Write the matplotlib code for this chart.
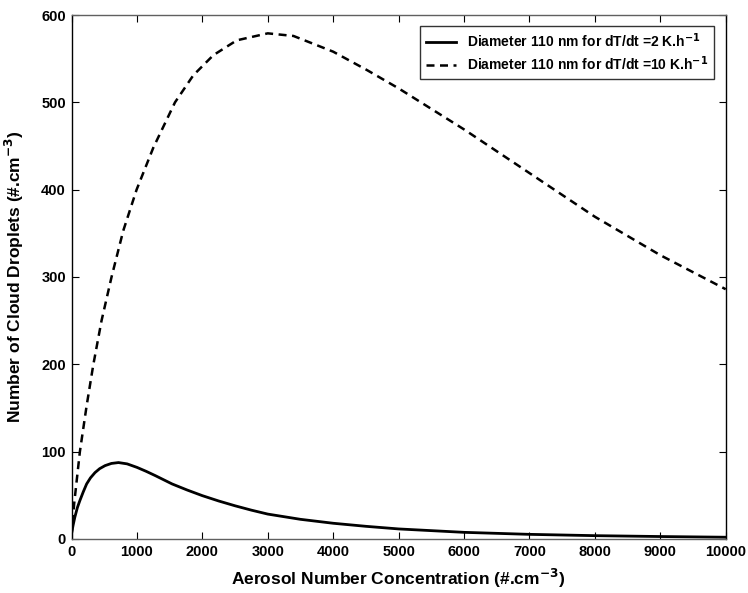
import matplotlib
matplotlib.use("Agg")
import matplotlib.pyplot as plt

plt.rcParams['font.family'] = ['Liberation Sans', 'DejaVu Sans']
plt.rcParams['font.weight'] = 'bold'
plt.rcParams['mathtext.default'] = 'bf'

# Aerosol number concentration (#/cm3) and droplet numbers
x_2k = [0, 25, 51, 90, 128, 180, 231, 290, 359, 430, 513, 610, 718, 850, 1000, 1140, 1282,
        1538, 1770, 2000, 2250, 2500, 2750, 3000, 3500, 4000, 4500, 5000, 6000, 7000, 8000,
        9000, 10000]
y_2k = [6, 16, 25, 36, 44, 54, 63, 70, 76, 80.5, 84, 86.5, 87.5, 86, 82, 77.5, 72.5,
        63, 56, 49.6, 43.5, 38, 33, 28.5, 22.5, 18, 14.5, 11.5, 7.6, 5.3, 3.8, 2.8, 2]

x_10k = [0, 40, 128, 230, 332, 459, 612, 791, 995, 1250, 1582, 1862, 2168, 2526, 3000,
         3393, 4000, 4515, 5000, 6000, 7000, 8000, 9000, 10000]
y_10k = [3, 40, 100, 152, 199, 250, 300, 353, 400, 448, 500, 531, 554, 571, 579,
         576, 558, 537, 516, 469, 419, 369, 325, 286]

legend_labels = [r"Diameter 110 nm for dT/dt =2 K.h$^{-1}$",
                 r"Diameter 110 nm for dT/dt =10 K.h$^{-1}$"]
xticks = list(range(0, 10001, 1000))
yticks = list(range(0, 601, 100))

fig = plt.figure(figsize=(7.48, 5.93), dpi=100)
ax = fig.add_axes([0.0956, 0.0911, 0.8746, 0.8836])

ax.plot(x_2k, y_2k, color='black', lw=2.0, label=legend_labels[0])
ax.plot(x_10k, y_10k, color='black', lw=1.8, linestyle=(0, (3.2, 2.2)), label=legend_labels[1])

ax.set_xlim(0, 10000)
ax.set_ylim(0, 600)
ax.set_xticks(xticks)
ax.set_yticks(yticks)
ax.tick_params(direction='in', length=5, width=0.8, labelsize=10.5, top=True, right=True, pad=4)
for lab in ax.get_xticklabels() + ax.get_yticklabels():
    lab.set_fontweight('bold')
for s in ['left', 'right']:
    ax.spines[s].set_color('black')
    ax.spines[s].set_linewidth(1.0)
for s in ['top', 'bottom']:
    ax.spines[s].set_color('#606060')
    ax.spines[s].set_linewidth(1.0)

ax.set_xlabel(r"Aerosol Number Concentration (#.cm$^{-3}$)", fontsize=12.5, fontweight='bold', labelpad=6)
ax.set_ylabel(r"Number of Cloud Droplets (#.cm$^{-3}$)", fontsize=12.5, fontweight='bold', labelpad=11)

leg = ax.legend(loc='upper right', fontsize=10, frameon=True, fancybox=False,
                edgecolor='black', handlelength=2.2, borderpad=0.4, labelspacing=0.3,
                bbox_to_anchor=(0.993, 0.992))
leg.get_frame().set_linewidth(1.0)
for t in leg.get_texts():
    t.set_fontweight('bold')

fig.savefig("out.png", dpi=100)
